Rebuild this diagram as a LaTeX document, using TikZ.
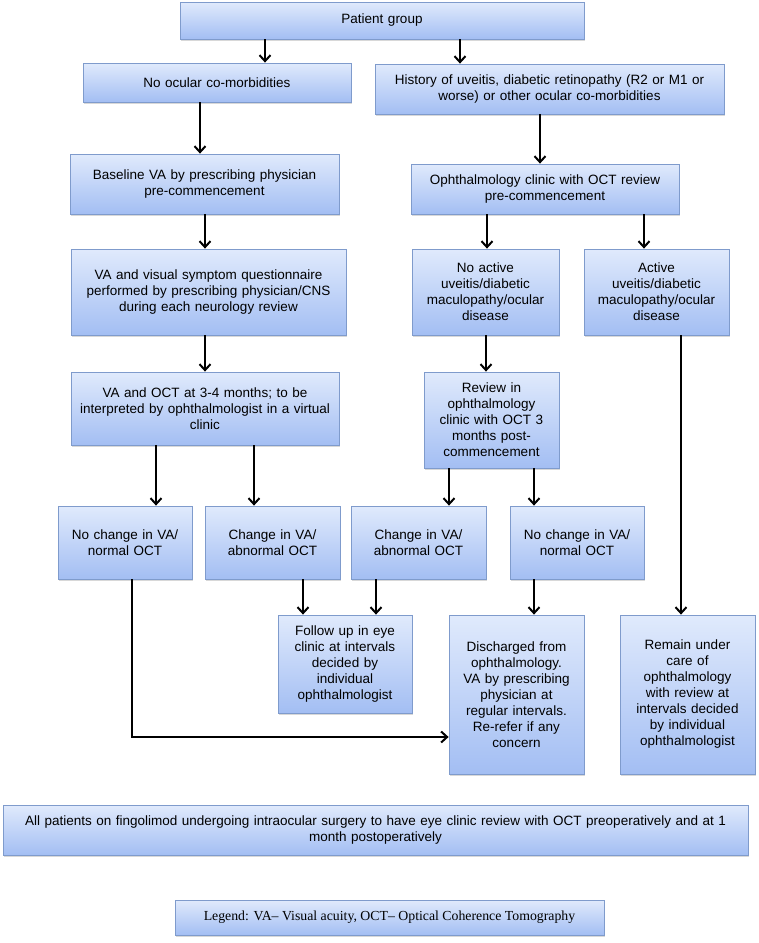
\documentclass[tikz,border=0pt]{standalone}
\usepackage{fontspec}
\setmainfont{Liberation Sans}
\newfontfamily\legfont{Liberation Serif}
\usetikzlibrary{arrows.meta,shadows}
\definecolor{boxtop}{HTML}{E0EAFC}
\definecolor{boxbot}{HTML}{A3BEF3}
\definecolor{boxline}{HTML}{7F9BCC}
\tikzset{
  fbox/.style={draw=boxline, line width=0.8pt, top color=boxtop, bottom color=boxbot,
    drop shadow={shadow xshift=1.2pt, shadow yshift=-1.5pt, opacity=0.3},
    inner sep=0pt, align=center, font=\fontsize{13.5}{16}\selectfont},
  arr/.style={line width=2.2pt, -{Straight Barb[length=6pt,width=11pt,line width=2pt]}},
}
\newcommand{\bx}[7]{% name, x1,y1,x2,y2, text
  \node[fbox, minimum width={#4-#2}, minimum height={#5-#3}, text width={#4-#2-6}]
    (#1) at ({(#2+#4)/2},{(#3+#5)/2+1}) {#6#7};}
\begin{document}
\begin{tikzpicture}[x=1pt,y=-1pt]
\fill[white] (0,0) rectangle (759,943);
\useasboundingbox (0,0) rectangle (759,943);
\bx{pg}{180}{1}{584}{38}{Patient group}{}
\bx{noc}{83}{62}{351}{101}{No ocular co-morbidities}{}
\bx{hist}{375}{63}{724}{113}{History of uveitis, diabetic retinopathy (R2 or M1 or\\worse) or other ocular co-morbidities}{}
\bx{base}{70}{153}{339}{213}{Baseline VA by prescribing physician\\pre-commencement}{}
\bx{oph}{411}{163}{679}{213}{Ophthalmology clinic with OCT review\\pre-commencement}{}
\bx{vaq}{71}{248}{346}{334}{VA and visual symptom questionnaire\\performed by prescribing physician/CNS\\during each neurology review}{}
\bx{noact}{412}{248}{559}{334}{No active\\uveitis/diabetic\\maculopathy/ocular\\disease}{}
\bx{act}{584}{248}{729}{334}{Active\\uveitis/diabetic\\maculopathy/ocular\\disease}{}
\bx{vaoct}{71}{371}{339}{444}{VA and OCT at 3-4 months; to be\\interpreted by ophthalmologist in a virtual\\clinic}{}
\bx{rev}{424}{371}{559}{467}{Review in\\ophthalmology\\clinic with OCT 3\\months post-\\commencement}{}
\bx{nca}{58}{505}{192}{578}{No change in VA/\\normal OCT}{}
\bx{cha}{205}{505}{340}{578}{Change in VA/\\abnormal OCT}{}
\bx{chb}{351}{505}{486}{578}{Change in VA/\\abnormal OCT}{}
\bx{ncb}{510}{505}{644}{578}{No change in VA/\\normal OCT}{}
\bx{fu}{278}{614}{412}{712}{Follow up in eye\\clinic at intervals\\decided by\\individual\\ophthalmologist}{}
\bx{dis}{449}{614}{584}{773}{Discharged from\\ophthalmology.\\VA by prescribing\\physician at\\regular intervals.\\Re-refer if any\\concern}{}
\bx{rem}{620}{614}{755}{773}{Remain under\\care of\\ophthalmology\\with review at\\intervals decided\\by individual\\ophthalmologist}{}
\bx{all}{3}{804}{748}{854}{All patients on fingolimod undergoing intraocular surgery to have eye clinic review with OCT preoperatively and at 1\\month postoperatively}{}
\node[fbox, minimum width=429, minimum height=35, font=\legfont\fontsize{13.8}{16}\selectfont]
  (leg) at (389.5,917.5) {Legend: VA{\textendash} Visual acuity, OCT{\textendash} Optical Coherence Tomography};
% connectors
\draw[arr] (265,0 |- pg.south) -- (265,0 |- noc.north);
\draw[arr] (460,0 |- pg.south) -- (460,0 |- hist.north);
\draw[arr] (200,0 |- noc.south) -- (200,0 |- base.north);
\draw[arr] (540,0 |- hist.south) -- (540,0 |- oph.north);
\draw[arr] (205,0 |- base.south) -- (205,0 |- vaq.north);
\draw[arr] (487,0 |- oph.south) -- (487,0 |- noact.north);
\draw[arr] (644,0 |- oph.south) -- (644,0 |- act.north);
\draw[arr] (205,0 |- vaq.south) -- (205,0 |- vaoct.north);
\draw[arr] (486,0 |- noact.south) -- (486,0 |- rev.north);
\draw[arr] (156,0 |- vaoct.south) -- (156,0 |- nca.north);
\draw[arr] (254,0 |- vaoct.south) -- (254,0 |- cha.north);
\draw[arr] (449,0 |- rev.south) -- (449,0 |- chb.north);
\draw[arr] (534,0 |- rev.south) -- (534,0 |- ncb.north);
\draw[arr] (303,0 |- cha.south) -- (303,0 |- fu.north);
\draw[arr] (376,0 |- chb.south) -- (376,0 |- fu.north);
\draw[arr] (534,0 |- ncb.south) -- (534,0 |- dis.north);
\draw[arr] (681,0 |- act.south) -- (681,0 |- rem.north);
\coordinate (bend) at (132,737);
\draw[arr] (bend |- nca.south) -- (bend) -- (bend -| dis.west);
\end{tikzpicture}
\end{document}
